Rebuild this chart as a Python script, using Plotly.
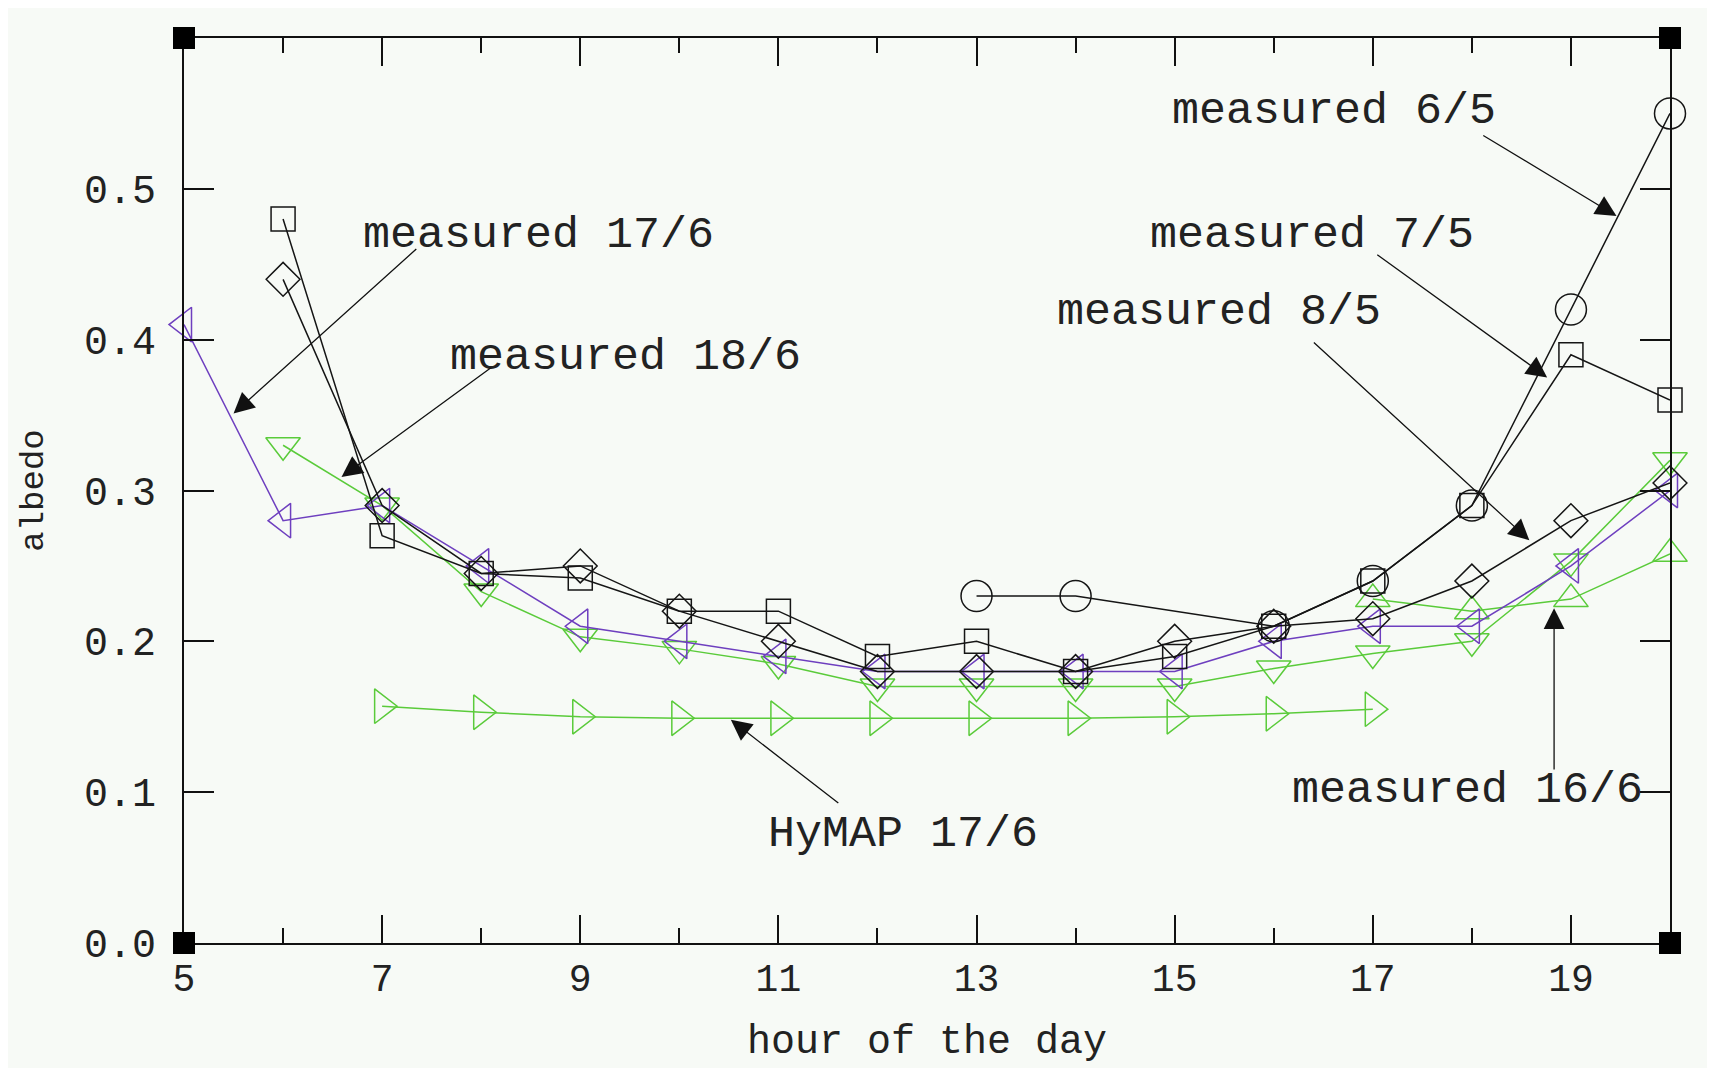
import plotly.graph_objects as go

# measured 6/5 (circles)
h_65 = [13, 14, 16, 17, 18, 19, 20]
v_65 = [0.23, 0.23, 0.21, 0.24, 0.29, 0.42, 0.55]

# measured 7/5 (squares)
h_75 = [6, 7, 8, 9, 10, 11, 12, 13, 14, 15, 16, 17, 18, 19, 20]
v_75 = [0.48, 0.27, 0.245, 0.242, 0.22, 0.22, 0.19, 0.20, 0.18, 0.19, 0.21, 0.24, 0.29, 0.39, 0.36]

# measured 8/5 (diamonds)
h_85 = [6, 7, 8, 9, 10, 11, 12, 13, 14, 15, 16, 17, 18, 19, 20]
v_85 = [0.44, 0.29, 0.245, 0.25, 0.22, 0.20, 0.18, 0.18, 0.18, 0.20, 0.21, 0.215, 0.24, 0.28, 0.305]

# measured 17/6 (purple left triangles)
h_176 = [5, 6, 7, 8, 9, 10, 11, 12, 13, 14, 15, 16, 17, 18, 19, 20]
v_176 = [0.41, 0.28, 0.29, 0.25, 0.21, 0.20, 0.19, 0.18, 0.18, 0.18, 0.18, 0.20, 0.21, 0.21, 0.25, 0.30]

# measured 18/6 (green down triangles)
h_186 = [6, 7, 8, 9, 10, 11, 12, 13, 14, 15, 16, 17, 18, 19, 20]
v_186 = [0.33, 0.29, 0.233, 0.203, 0.195, 0.185, 0.17, 0.17, 0.17, 0.17, 0.182, 0.192, 0.20, 0.253, 0.32]

# measured 16/6 (green up triangles)
h_166 = [17, 18, 19, 20]
v_166 = [0.228, 0.22, 0.228, 0.258]

# HyMAP 17/6 (green right triangles)
h_hy = [7, 8, 9, 10, 11, 12, 13, 14, 15, 16, 17]
v_hy = [0.157, 0.153, 0.15, 0.149, 0.149, 0.149, 0.149, 0.149, 0.15, 0.152, 0.155]

x_ticks = [5, 7, 9, 11, 13, 15, 17, 19]
x_minor = [6, 8, 10, 12, 14, 16, 18, 20]
y_ticks = [0.0, 0.1, 0.2, 0.3, 0.4, 0.5]
y_ticktext = ["0.0", "0.1", "0.2", "0.3", "0.4", "0.5"]

# labels: text, text position, arrow tail, arrow tip
labels = [
    ("measured 6/5", (16.61, 0.551), (18.10, 0.536), (19.46, 0.482)),
    ("measured 7/5", (16.39, 0.469), (17.03, 0.457), (18.76, 0.375)),
    ("measured 8/5", (15.45, 0.418), (16.39, 0.399), (18.58, 0.267)),
    ("measured 17/6", (8.58, 0.469), (7.36, 0.461), (5.50, 0.351)),
    ("measured 18/6", (9.46, 0.388), (8.11, 0.382), (6.59, 0.309)),
    ("HyMAP 17/6", (12.26, 0.072), (11.62, 0.092), (10.52, 0.148)),
    ("measured 16/6", (17.96, 0.101), (18.83, 0.114), (18.83, 0.222)),
]

BLACK = "#151515"
PURPLE = "#6e3fbf"
GREEN = "#5acb3a"
BG = "#f7faf6"
FONT = "Liberation Mono"

fig = go.Figure()

def add(h, v, color, symbol, size):
    fig.add_trace(go.Scatter(
        x=h, y=v, mode="lines+markers", cliponaxis=False,
        line=dict(color=color, width=1.5),
        marker=dict(symbol=symbol, size=size, color=color,
                    line=dict(color=color, width=1.5)),
        showlegend=False, hoverinfo="x+y"))

add(h_hy, v_hy, GREEN, "triangle-right-open", 30)
add(h_186, v_186, GREEN, "triangle-down-open", 30)
add(h_166, v_166, GREEN, "triangle-up-open", 30)
add(h_176, v_176, PURPLE, "triangle-left-open", 30)
add(h_85, v_85, BLACK, "diamond-open", 26)
add(h_75, v_75, BLACK, "square-open", 24)
add(h_65, v_65, BLACK, "circle-open", 31)

annotations = []
for text, tpos, tail, tip in labels:
    annotations.append(dict(x=tpos[0], y=tpos[1], xref="x", yref="y", text=text,
                            showarrow=False, xanchor="center", yanchor="middle",
                            font=dict(family=FONT, size=45, color="#222222")))
    annotations.append(dict(x=tip[0], y=tip[1], ax=tail[0], ay=tail[1],
                            xref="x", yref="y", axref="x", ayref="y", text="",
                            showarrow=True, arrowhead=2, arrowsize=3.2,
                            arrowwidth=1.3, arrowcolor="#111111"))

shapes = []
for cx, cy in [(0, 0), (1, 0), (0, 1), (1, 1)]:
    shapes.append(dict(type="rect", xref="x domain", yref="y domain",
                       xsizemode="pixel", ysizemode="pixel",
                       xanchor=cx, yanchor=cy, x0=-11, x1=11, y0=-11, y1=11,
                       fillcolor="#000000", line=dict(width=0)))

fig.update_layout(
    width=1715, height=1068,
    paper_bgcolor=BG, plot_bgcolor=BG,
    margin=dict(l=176, r=53, t=30, b=133),
    font=dict(family=FONT, color="#222222"),
    annotations=annotations, shapes=shapes,
    xaxis=dict(range=[5, 20], tickmode="array", tickvals=x_ticks,
               ticks="inside", ticklen=28, tickwidth=1.5, tickcolor="#111",
               minor=dict(tickmode="array", tickvals=x_minor,
                          ticks="inside", ticklen=15, tickwidth=1.5, tickcolor="#111"),
               showline=True, linecolor="#111", linewidth=2, mirror="ticks",
               showgrid=False, zeroline=False,
               tickfont=dict(family=FONT, size=38, color="#222"),
               title=dict(text="hour of the day", font=dict(family=FONT, size=40, color="#222"),
                          standoff=24)),
    yaxis=dict(range=[0, 0.6], tickmode="array", tickvals=y_ticks, ticktext=y_ticktext,
               ticks="inside", ticklen=30, tickwidth=1.5, tickcolor="#111",
               showline=True, linecolor="#111", linewidth=2, mirror="ticks",
               showgrid=False, zeroline=False, ticklabelstandoff=18,
               tickfont=dict(family=FONT, size=40, color="#222"),
               title=dict(text="albedo", font=dict(family=FONT, size=34, color="#222"),
                          standoff=30)),
)

fig.write_html("out.html")
